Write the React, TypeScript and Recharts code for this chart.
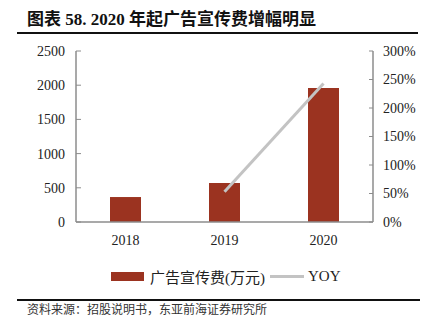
import React from "react";
import { Bar, ComposedChart, Line, XAxis, YAxis } from "recharts";

const years = ["2018", "2019", "2020"];
const adSpend = [365, 570, 1958];
const yoy = [null, 53, 243];
const leftTicks = [0, 500, 1000, 1500, 2000, 2500];
const rightTicks = [0, 50, 100, 150, 200, 250, 300];

const BAR_COLOR = "#9b3320";
const LINE_COLOR = "#c3c3c3";
const AXIS_COLOR = "#8c8c8c";
const SERIF = '"Liberation Serif", "Times New Roman", serif';
const CJK = '"Liberation Serif", "Noto Sans CJK SC", serif';

const data = years.map((year, i) => ({ year, spend: adSpend[i], yoy: yoy[i] }));

const tickStyle = { fontSize: 14, fill: "#222", fontFamily: SERIF };

export default function App() {
  return (
    <div
      style={{
        position: "absolute",
        top: 0,
        left: 0,
        width: 424,
        height: 332,
        background: "#fff",
        overflow: "hidden",
      }}
    >
      <div
        style={{
          position: "absolute",
          top: 10,
          left: 27,
          fontSize: 17,
          fontWeight: 700,
          fontFamily: CJK,
          color: "#111",
          whiteSpace: "nowrap",
          lineHeight: "20px",
        }}
      >
        图表 58. 2020 年起广告宣传费增幅明显
      </div>
      <div style={{ position: "absolute", top: 32, left: 17, width: 401, height: 2, background: "#111" }} />

      <div style={{ position: "absolute", top: 0, left: 0 }}>
        <ComposedChart width={424} height={260} data={data} margin={{ top: 51, right: 6, bottom: 8, left: 26 }}>
          <XAxis
            xAxisId="b"
            type="number"
            domain={[0, 3]}
            ticks={[1, 2]}
            allowDataOverflow
            height={0}
            axisLine={false}
            tickSize={-4}
            tickLine={{ stroke: AXIS_COLOR }}
            tickFormatter={() => ""}
          />
          <XAxis
            dataKey="year"
            height={30}
            axisLine={{ stroke: AXIS_COLOR, strokeWidth: 1.5 }}
            tickLine={false}
            tickSize={0}
            tickMargin={13}
            tick={tickStyle}
          />
          <YAxis
            yAxisId="left"
            width={50}
            domain={[0, 2500]}
            ticks={leftTicks}
            axisLine={{ stroke: AXIS_COLOR, strokeWidth: 1.5 }}
            tickLine={{ stroke: AXIS_COLOR }}
            tickSize={-5}
            tickMargin={16}
            tick={tickStyle}
          />
          <YAxis
            yAxisId="right"
            orientation="right"
            width={45}
            domain={[0, 300]}
            ticks={rightTicks}
            axisLine={{ stroke: AXIS_COLOR, strokeWidth: 1.5 }}
            tickLine={{ stroke: AXIS_COLOR }}
            tickSize={-4}
            tickMargin={14}
            tick={tickStyle}
            tickFormatter={(v: number) => `${v}%`}
          />
          <Bar yAxisId="left" dataKey="spend" fill={BAR_COLOR} barSize={31} isAnimationActive={false} />
          <Line
            yAxisId="right"
            dataKey="yoy"
            stroke={LINE_COLOR}
            strokeWidth={3}
            dot={false}
            activeDot={false}
            isAnimationActive={false}
          />
        </ComposedChart>
      </div>

      <div
        style={{
          position: "absolute",
          top: 266,
          left: 111,
          height: 20,
          display: "flex",
          alignItems: "center",
          fontFamily: CJK,
          fontSize: 15,
          color: "#222",
          whiteSpace: "nowrap",
        }}
      >
        <span style={{ display: "inline-block", width: 33, height: 9, background: BAR_COLOR }} />
        <span style={{ marginLeft: 6 }}>广告宣传费(万元)</span>
        <span style={{ display: "inline-block", width: 34, height: 3, background: LINE_COLOR, marginLeft: 5 }} />
        <span style={{ marginLeft: 4, fontFamily: SERIF }}>YOY</span>
      </div>

      <div style={{ position: "absolute", top: 299, left: 17, width: 403, height: 2, background: "#111" }} />
      <div
        style={{
          position: "absolute",
          top: 301,
          left: 27,
          fontSize: 12,
          fontFamily: '"Noto Sans CJK SC", sans-serif',
          color: "#333",
          whiteSpace: "nowrap",
          lineHeight: "16px",
        }}
      >
        资料来源：招股说明书，东亚前海证券研究所
      </div>
    </div>
  );
}
